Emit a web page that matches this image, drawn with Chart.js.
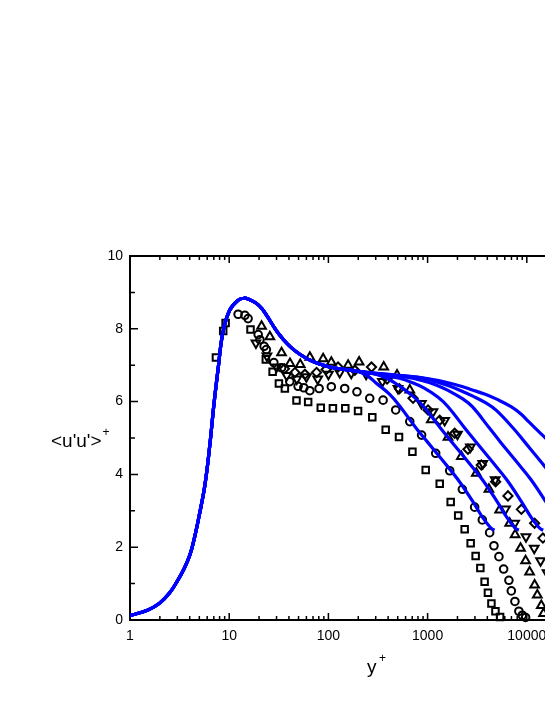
<!DOCTYPE html>
<html>
<head>
<meta charset="utf-8">
<script src="https://cdn.jsdelivr.net/npm/chart.js@4.4.0/dist/chart.umd.min.js"></script>
<style>
  html, body { margin: 0; padding: 0; background: #fff; overflow: hidden; }
  #wrap { width: 700px; height: 705px; }
</style>
</head>
<body>
<div id="wrap"><canvas id="uuChart" width="700" height="705"></canvas></div>
<script>
// axis labels
const xTickLabels = [1, 10, 100, 1000, 10000, 100000];
const yTickLabels = [0, 2, 4, 6, 8, 10];

// model curve, shared near-wall part
const innerX = [1, 1.5, 2, 2.5, 2.97, 3.5, 4.02, 4.5, 4.95, 5.69, 6.38, 7.0, 7.7, 8.63, 10.1, 12.2, 14.1, 16.1, 18.6, 21.3, 24.5, 28.1, 32.4, 37.2, 42.8, 51.5, 65, 81.9, 103, 150, 200];
const innerY = [0.12, 0.27, 0.47, 0.74, 1.05, 1.4, 1.79, 2.3, 2.83, 3.71, 4.81, 5.9, 6.86, 7.9, 8.51, 8.78, 8.84, 8.8, 8.71, 8.56, 8.32, 8.06, 7.82, 7.63, 7.47, 7.3, 7.14, 7.03, 6.95, 6.88, 6.83];

// model curve, outer branches (one per Reynolds number)
const aX = [250, 300, 415, 523, 771, 990, 1400, 2020, 2860, 3600, 4230, 4529, 4740];
const aY = [6.7, 6.52, 6.2, 5.88, 5.26, 4.9, 4.4, 3.86, 3.25, 2.81, 2.56, 2.49, 2.47];
const bX = [300, 400, 526, 726, 914, 1352, 1742, 2460, 3556, 5023, 6324, 7430, 7962, 8330];
const bY = [6.75, 6.62, 6.42, 6.13, 5.86, 5.27, 4.9, 4.4, 3.86, 3.25, 2.81, 2.56, 2.49, 2.47];
const cX = [300, 520, 702, 925, 1276, 1607, 2377, 3062, 4325, 6252, 8830, 11120, 13060, 14000, 14660];
const cY = [6.76, 6.64, 6.52, 6.37, 6.12, 5.86, 5.27, 4.9, 4.4, 3.86, 3.25, 2.81, 2.56, 2.49, 2.47];
const dX = [300, 600, 914, 1233, 1626, 2244, 2825, 4178, 5383, 7603, 10990, 15520, 19540, 22960, 24600, 25760];
const dY = [6.77, 6.68, 6.57, 6.45, 6.3, 6.08, 5.86, 5.28, 4.9, 4.4, 3.86, 3.25, 2.81, 2.56, 2.49, 2.47];
const eX = [300, 800, 1138, 1607, 2168, 2858, 3945, 4966, 7345, 9462, 13370, 19320, 27290, 34360, 40360, 43250, 45290];
const eY = [6.77, 6.67, 6.57, 6.44, 6.3, 6.15, 5.95, 5.75, 5.26, 4.9, 4.4, 3.86, 3.25, 2.81, 2.56, 2.49, 2.47];
const fX = [300, 1000, 2000, 2825, 3811, 5023, 6934, 8730, 10500, 12910, 16630, 23500, 33960, 47970, 60390, 70960, 76030, 79620];
const fY = [6.78, 6.63, 6.45, 6.32, 6.2, 6.06, 5.86, 5.66, 5.44, 5.2, 4.9, 4.4, 3.86, 3.25, 2.81, 2.56, 2.49, 2.47];

// measured data (open symbols)
const sqX = [7.35, 8.7, 9.2, 16.4, 23.4, 27.4, 31.7, 36.4, 47.7, 62.5, 83.8, 111, 148, 199, 277, 378, 515, 703, 957, 1325, 1709, 2034, 2364, 2717, 3050, 3403, 3756, 4058, 4400, 4830, 5380];
const sqY = [7.21, 7.94, 8.16, 7.98, 7.16, 6.82, 6.5, 6.36, 6.03, 5.99, 5.83, 5.82, 5.82, 5.74, 5.57, 5.23, 5.03, 4.62, 4.12, 3.74, 3.24, 2.87, 2.49, 2.11, 1.76, 1.43, 1.05, 0.75, 0.45, 0.24, 0.08];

const ciX = [12.3, 14.4, 15.5, 19.6, 20.4, 22.5, 23.7, 28.2, 33.7, 40.8, 49.5, 56.5, 65, 80.6, 107, 146, 194, 261, 356, 477, 661, 870, 1207, 1671, 2241, 2980, 3562, 4220, 4665, 5236, 5840, 6600, 6980, 7590, 8320, 9010, 9720];
const ciY = [8.4, 8.37, 8.28, 7.84, 7.7, 7.52, 7.43, 7.07, 6.93, 6.55, 6.42, 6.38, 6.3, 6.36, 6.41, 6.36, 6.27, 6.09, 6.04, 5.77, 5.45, 5.08, 4.58, 4.1, 3.59, 3.1, 2.75, 2.4, 2.04, 1.74, 1.4, 1.09, 0.8, 0.51, 0.24, 0.13, 0.07];

const tuX = [21.2, 25.7, 33.7, 41, 52, 65, 88.5, 107, 158, 204, 361, 492, 661, 1090, 1606, 2188, 3098, 4152, 5321, 6714, 7620, 8650, 9720, 10670, 11990, 12760, 14000, 14760];
const tuY = [8.07, 7.78, 7.34, 7.05, 7.02, 7.22, 7.18, 7.08, 7.0, 7.09, 6.95, 6.73, 6.32, 5.5, 5.02, 4.49, 4.03, 3.59, 3.02, 2.66, 2.34, 1.97, 1.63, 1.32, 0.96, 0.69, 0.4, 0.18];

const diX = [36, 46, 58, 76, 95, 125, 185, 272, 390, 520, 713, 1010, 1325, 1875, 2553, 3482, 4850, 6457, 8810, 11990, 14530, 17500, 21000, 25000, 29000];
const diY = [6.9, 6.8, 6.75, 6.8, 6.88, 6.95, 6.86, 6.95, 6.62, 6.35, 6.09, 5.77, 5.49, 5.13, 4.69, 4.26, 3.8, 3.41, 3.04, 2.66, 2.25, 1.85, 1.4, 0.9, 0.4];

const tdX = [18.6, 24, 30, 38, 48, 60, 78, 100, 130, 170, 240, 350, 503, 866, 1132, 1486, 2000, 2700, 3600, 4800, 6100, 7540, 9810, 11880, 13770, 16000, 18500, 21500, 25000];
const tdY = [7.61, 7.25, 6.95, 6.72, 6.62, 6.68, 6.62, 6.75, 6.8, 6.78, 6.75, 6.55, 6.36, 5.95, 5.72, 5.48, 5.1, 4.75, 4.3, 3.85, 3.05, 2.66, 2.29, 1.97, 1.63, 1.3, 0.95, 0.6, 0.25];

const pairs = (xs, ys) => xs.map((x, i) => ({ x: x, y: ys[i] }));

const branches = [[aX, aY], [bX, bY], [cX, cY], [dX, dY], [eX, eY], [fX, fY]];

const curveSets = branches.map(([bx, by]) => ({
  data: pairs(innerX.concat(bx), innerY.concat(by)),
  showLine: true,
  borderColor: '#0000ff',
  borderWidth: 3.2,
  pointRadius: 0,
  tension: 0.4,
  fill: false
}));

const symbol = (xs, ys, style, radius, rotation) => ({
  data: pairs(xs, ys),
  showLine: false,
  pointStyle: style,
  pointRadius: radius,
  pointRotation: rotation || 0,
  pointBorderColor: '#000',
  pointBackgroundColor: 'rgba(0,0,0,0)',
  pointBorderWidth: 2,
  clip: false
});

const markerSets = [
  symbol(sqX, sqY, 'rect', 4.6),
  symbol(ciX, ciY, 'circle', 3.8),
  symbol(tuX, tuY, 'triangle', 5),
  symbol(diX, diY, 'rectRot', 4.6),
  symbol(tdX, tdY, 'triangle', 5, 180)
];

// frame with inward ticks and the two axis titles
const axisFrame = {
  id: 'axisFrame',
  beforeDatasetsDraw(chart) {
    const { ctx, chartArea: a, scales } = chart;
    const x = scales.x, y = scales.y;
    ctx.save();
    ctx.strokeStyle = '#000';
    ctx.lineWidth = 2;
    ctx.strokeRect(a.left, a.top, a.right - a.left, a.bottom - a.top);

    ctx.lineWidth = 1.5;
    ctx.beginPath();
    for (let d = 0; d < 5; d++) {
      for (let k = 1; k < 10; k++) {
        const px = x.getPixelForValue(k * Math.pow(10, d));
        const len = k === 1 ? 7 : 4;
        ctx.moveTo(px, a.bottom); ctx.lineTo(px, a.bottom - len);
        ctx.moveTo(px, a.top); ctx.lineTo(px, a.top + len);
      }
    }
    for (let v = 0; v <= 10; v++) {
      const py = y.getPixelForValue(v);
      const len = v % 2 === 0 ? 8 : 5;
      ctx.moveTo(a.left, py); ctx.lineTo(a.left + len, py);
      ctx.moveTo(a.right, py); ctx.lineTo(a.right - len, py);
    }
    ctx.stroke();

    ctx.fillStyle = '#000';
    ctx.textBaseline = 'alphabetic';
    ctx.textAlign = 'left';
    ctx.font = "19px 'Liberation Sans', Arial, sans-serif";
    const yt = "<u'u'>";
    ctx.fillText(yt, 51, 447);
    const w = ctx.measureText(yt).width;
    ctx.fillText('y', 367, 673);
    ctx.font = "12px 'Liberation Sans', Arial, sans-serif";
    ctx.fillText('+', 51 + w + 1, 436);
    ctx.fillText('+', 379, 662);
    ctx.restore();
  }
};

Chart.defaults.font.family = "'Liberation Sans', Arial, sans-serif";
Chart.defaults.font.size = 14;
Chart.defaults.color = '#000';

new Chart(document.getElementById('uuChart'), {
  type: 'scatter',
  data: { datasets: curveSets.concat(markerSets) },
  options: {
    responsive: false,
    animation: false,
    devicePixelRatio: 1,
    layout: { padding: { top: 256, right: 74, left: 0, bottom: 0 } },
    plugins: { legend: { display: false }, tooltip: { enabled: false } },
    scales: {
      x: {
        type: 'logarithmic',
        min: 1,
        max: 100000,
        grid: { display: false, drawTicks: false },
        border: { display: false },
        ticks: { padding: 8, maxRotation: 0, callback: (v) => String(v) },
        afterBuildTicks: (s) => { s.ticks = xTickLabels.map((v) => ({ value: v })); },
        afterFit: (s) => { s.height = 85; }
      },
      y: {
        min: 0,
        max: 10,
        grid: { display: false, drawTicks: false },
        border: { display: false },
        ticks: { padding: 7 },
        afterBuildTicks: (s) => { s.ticks = yTickLabels.map((v) => ({ value: v })); },
        afterFit: (s) => { s.width = 130; }
      }
    }
  },
  plugins: [axisFrame]
});
</script>
</body>
</html>
